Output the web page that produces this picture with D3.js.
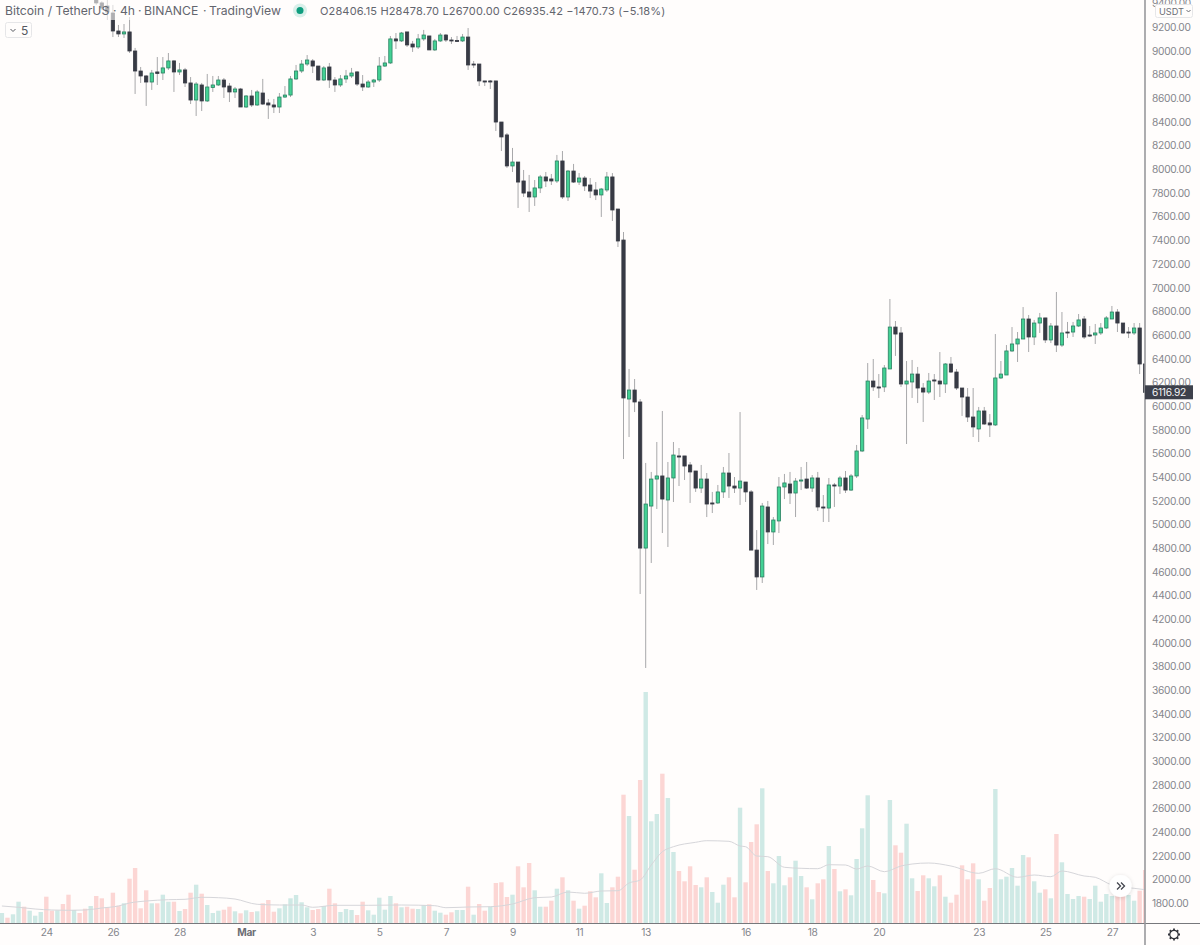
<!DOCTYPE html>
<html>
<head>
<meta charset="utf-8">
<script src="https://cdnjs.cloudflare.com/ajax/libs/d3/7.8.5/d3.min.js"></script>
<style>
  html, body { margin: 0; padding: 0; background: #fffdfc; overflow: hidden; }
  text { font-family: Inter, "Noto Sans", sans-serif; }
  .axis-label text { fill: #85868c; font-size: 10.2px; letter-spacing: -0.3px; }
  .legend-title { fill: #63656e; font-size: 12.2px; }
  .legend-ohlc { fill: #63656e; font-size: 11px; letter-spacing: 0.15px; }
</style>
</head>
<body>
<svg id="chart" width="1200" height="945"></svg>
<script>
// bars run 0..206, six per day. The candles above the top edge are not in the picture, so they start at bar 17.
const FIRST_CANDLE = 17;

const candleOpen = [
  9440, 9406, 9380, 9321, 9169, 9144, 9161, 9000, 8831, 8789,
  8738, 8823, 8814, 8857, 8916, 8823, 8840, 8730, 8586, 8713,
  8578, 8692, 8713, 8755, 8704, 8654, 8679, 8527, 8620, 8544,
  8645, 8561, 8544, 8527, 8611, 8628, 8764, 8831, 8890, 8916,
  8873, 8755, 8865, 8755, 8713, 8764, 8789, 8823, 8721, 8696,
  8738, 8755, 8873, 8899, 9102, 9085, 9161, 9059, 9034, 9102,
  9127, 9009, 9085, 9135, 9093, 9089, 9085, 9118, 8890, 8890,
  8747, 8747, 8747, 8400, 8291, 8029, 8062, 7902, 7809, 7767,
  7843, 7936, 7919, 7902, 8071, 7767, 7986, 7893, 7927, 7868,
  7826, 7784, 7826, 7936, 7665, 7403, 6060, 6136, 6035, 4801,
  5156, 5384, 5410, 5207, 5393, 5579, 5579, 5503, 5452, 5308,
  5384, 5182, 5182, 5275, 5435, 5325, 5308, 5359, 5275, 4784,
  4557, 5148, 4937, 5030, 5317, 5342, 5266, 5367, 5384, 5308,
  5393, 5148, 5139, 5334, 5325, 5393, 5291, 5410, 5621, 5891,
  6212, 6162, 6162, 6314, 6668, 6618, 6187, 6204, 6271, 6153,
  6119, 6221, 6212, 6187, 6356, 6288, 6153, 6077, 5908, 5807,
  5959, 5858, 5841, 6238, 6263, 6466, 6525, 6567, 6736, 6584,
  6702, 6745, 6559, 6677, 6516, 6626, 6626, 6677, 6736, 6601,
  6601, 6618, 6660, 6736, 6795, 6702, 6626, 6618, 6660, 6356
];
const candleHigh = [
  9470, 9420, 9440, 9389, 9220, 9228, 9287, 9026, 8865, 8797,
  8840, 8949, 8949, 8983, 8924, 8899, 8857, 8780, 8738, 8730,
  8806, 8789, 8789, 8772, 8730, 8696, 8688, 8628, 8671, 8671,
  8764, 8595, 8595, 8645, 8704, 8789, 8882, 8924, 8966, 8932,
  8873, 8873, 8899, 8780, 8797, 8840, 8857, 8831, 8797, 8755,
  8764, 8949, 8958, 9127, 9152, 9161, 9161, 9085, 9144, 9178,
  9127, 9102, 9152, 9144, 9118, 9127, 9144, 9194, 8916, 8890,
  8747, 8755, 8747, 8400, 8307, 8181, 8062, 7995, 7953, 7910,
  7953, 7978, 7961, 8122, 8155, 7995, 8046, 7969, 7944, 7927,
  7893, 7843, 7978, 7969, 7665, 7471, 6314, 6229, 6060, 5520,
  5444, 5697, 5959, 5528, 5697, 5646, 5579, 5528, 5452, 5503,
  5435, 5275, 5334, 5486, 5604, 5401, 5950, 5359, 5291, 4953,
  5182, 5199, 5063, 5401, 5427, 5444, 5393, 5486, 5528, 5418,
  5444, 5249, 5393, 5351, 5410, 5452, 5427, 5672, 5925, 6364,
  6398, 6271, 6347, 6905, 6719, 6668, 6381, 6390, 6331, 6195,
  6280, 6271, 6457, 6364, 6415, 6314, 6153, 6153, 6153, 5993,
  5993, 5933, 6609, 6381, 6516, 6668, 6626, 6837, 6770, 6728,
  6787, 6745, 6702, 6964, 6795, 6711, 6711, 6778, 6761, 6677,
  6694, 6702, 6761, 6846, 6820, 6702, 6668, 6702, 6702, 6356
];
const candleLow = [
  9390, 9347, 9262, 9118, 9118, 9110, 8983, 8637, 8730, 8536,
  8671, 8713, 8755, 8840, 8654, 8797, 8696, 8552, 8451, 8493,
  8569, 8654, 8704, 8603, 8569, 8603, 8527, 8519, 8527, 8536,
  8544, 8426, 8476, 8476, 8603, 8611, 8755, 8814, 8873, 8814,
  8747, 8747, 8688, 8654, 8696, 8730, 8772, 8704, 8662, 8688,
  8696, 8738, 8865, 8890, 9017, 9076, 9034, 8992, 9017, 9085,
  9009, 9000, 9076, 9076, 9059, 9076, 9076, 8840, 8857, 8704,
  8704, 8679, 8324, 8155, 8012, 7978, 7674, 7767, 7640, 7691,
  7800, 7851, 7868, 7885, 7750, 7733, 7885, 7868, 7817, 7758,
  7741, 7598, 7809, 7564, 7344, 5553, 5739, 5950, 4413, 3788,
  4675, 5131, 4928, 4810, 5190, 5325, 5376, 5182, 5275, 5266,
  5063, 5097, 5173, 5224, 5224, 5266, 5165, 5190, 4784, 4447,
  4506, 4835, 4827, 4928, 5215, 5173, 5063, 5291, 5300, 5275,
  5114, 5021, 5021, 5148, 5258, 5266, 5283, 5393, 5612, 5807,
  6128, 6069, 6119, 6314, 6424, 6162, 5680, 6069, 6026, 5866,
  6102, 6052, 6077, 6111, 6280, 6136, 5917, 5866, 5739, 5697,
  5841, 5739, 5832, 6229, 6263, 6457, 6373, 6567, 6457, 6516,
  6618, 6533, 6533, 6457, 6500, 6575, 6584, 6668, 6567, 6584,
  6525, 6601, 6652, 6736, 6626, 6609, 6575, 6601, 6271, 6117
];
const candleClose = [
  9406, 9363, 9330, 9169, 9144, 9161, 9000, 8831, 8789, 8738,
  8814, 8810, 8857, 8916, 8823, 8840, 8730, 8586, 8721, 8578,
  8696, 8713, 8755, 8696, 8654, 8679, 8527, 8620, 8544, 8654,
  8552, 8544, 8527, 8611, 8628, 8764, 8831, 8890, 8924, 8873,
  8755, 8857, 8755, 8713, 8764, 8789, 8814, 8721, 8696, 8738,
  8755, 8873, 8899, 9102, 9085, 9152, 9051, 9034, 9102, 9135,
  9009, 9085, 9135, 9093, 9085, 9085, 9118, 8882, 8882, 8747,
  8738, 8738, 8400, 8274, 8029, 8062, 7893, 7800, 7767, 7843,
  7936, 7902, 7902, 8071, 7767, 7986, 7893, 7927, 7860, 7817,
  7784, 7834, 7936, 7657, 7395, 6069, 6136, 6035, 4801, 5173,
  5384, 5410, 5215, 5393, 5587, 5570, 5494, 5444, 5308, 5384,
  5173, 5173, 5275, 5435, 5325, 5308, 5367, 5275, 4784, 4557,
  5156, 4937, 5038, 5317, 5351, 5266, 5367, 5376, 5308, 5393,
  5148, 5139, 5334, 5325, 5393, 5291, 5410, 5621, 5900, 6212,
  6162, 6153, 6322, 6668, 6609, 6187, 6212, 6271, 6153, 6119,
  6212, 6212, 6187, 6356, 6288, 6153, 6077, 5908, 5824, 5959,
  5849, 5841, 6238, 6271, 6466, 6525, 6567, 6736, 6584, 6702,
  6745, 6559, 6677, 6516, 6618, 6618, 6677, 6728, 6584, 6592,
  6618, 6660, 6745, 6795, 6702, 6618, 6618, 6660, 6356, 6116.92
];

// volume in arbitrary units, one value per bar from bar 0
const volumes = [
  10, 5.3, 8.7, 21.3, 16.3, 12.3, 7.3, 11, 26.3, 12.3,
  12.7, 19, 28.3, 13, 10, 14.3, 17, 27, 24.7, 15.7,
  30.3, 17.3, 19.7, 44.3, 55, 14.7, 32.7, 19.7, 19.7, 28.3,
  21.3, 21.3, 12, 14, 30.3, 38.3, 29.3, 18, 10, 12.3,
  13.3, 16.3, 11.7, 9.7, 12.7, 11, 11.7, 19.7, 23, 11.3,
  14.7, 18.7, 24.7, 28, 20.7, 15.7, 13, 14, 17, 34.3,
  19.7, 11, 14, 13, 8, 21.3, 12.7, 8.3, 25.3, 13.3,
  27, 19.7, 15.7, 16.3, 14.3, 14, 18, 18.7, 12.3, 10.3,
  8.3, 10.7, 13, 13, 36.3, 8.3, 19, 12.3, 16.3, 40,
  40.7, 26, 28.3, 56.7, 35.7, 60, 32.7, 16.3, 16.3, 22.3,
  34.3, 45.7, 32.7, 22.3, 14.3, 17.3, 31.7, 25.7, 49.7, 20,
  35.7, 46.3, 128.3, 107, 53.3, 143, 231, 101.7, 109, 149.3,
  125, 71, 52, 41.7, 56.7, 38, 35.7, 45.7, 31, 20.3,
  38.3, 45.7, 25.7, 115.3, 40.7, 81, 98.7, 134.7, 52, 39.7,
  67, 37.7, 45.7, 62.3, 47, 35.7, 23.7, 39.7, 43.7, 77,
  54, 31.7, 33.7, 27.7, 64, 94.7, 127.7, 43, 31, 29.7,
  123, 77.7, 70.3, 99.3, 44.7, 32, 47.7, 44.7, 36.7, 47.7,
  26.3, 20.3, 28.3, 57.7, 43.7, 59.7, 43.7, 22.3, 35, 134,
  43.7, 46.3, 55, 37.3, 68, 65.7, 41.7, 30.3, 33.7, 24.7,
  89, 60.7, 29, 24, 27, 26.3, 24, 37.3, 21.3, 29,
  27, 28, 30, 28, 22.3, 32.3, 53
];
// 1 = up bar (teal), 0 = down bar (pink)
const volumeUp = [
  1, 0, 1, 1, 0, 1, 1, 1, 0, 0,
  1, 0, 0, 1, 0, 0, 1, 0, 0, 0,
  0, 0, 1, 0, 0, 0, 0, 1, 0, 1,
  1, 0, 1, 0, 0, 1, 0, 1, 1, 1,
  0, 0, 1, 0, 1, 0, 1, 0, 0, 0,
  1, 1, 1, 1, 1, 1, 0, 0, 1, 0,
  0, 1, 1, 1, 0, 0, 1, 1, 1, 1,
  1, 0, 1, 0, 0, 1, 1, 0, 1, 1,
  0, 0, 1, 1, 0, 1, 0, 0, 1, 0,
  0, 0, 1, 0, 0, 0, 1, 1, 0, 0,
  1, 0, 1, 0, 1, 0, 0, 0, 1, 1,
  0, 0, 0, 1, 0, 0, 1, 1, 1, 0,
  1, 1, 0, 0, 0, 0, 1, 0, 1, 1,
  1, 0, 0, 1, 0, 0, 0, 1, 0, 1,
  1, 1, 0, 1, 1, 0, 1, 0, 0, 1,
  0, 1, 0, 1, 1, 1, 1, 0, 0, 1,
  1, 0, 0, 1, 1, 0, 0, 1, 1, 0,
  1, 0, 0, 0, 0, 0, 1, 0, 0, 1,
  1, 1, 1, 1, 1, 0, 1, 1, 0, 1,
  0, 1, 1, 1, 1, 0, 1, 1, 1, 1,
  1, 0, 0, 1, 1, 0, 0
];

const maBars = [0, 3, 6, 9, 12, 15, 18, 21, 23, 26, 30, 33, 36, 39, 42, 46, 50, 54, 56, 60, 66, 72,
  78, 80, 84, 88, 92, 96, 99, 102, 105, 108, 111, 113, 115, 117, 119, 121, 125, 127, 131, 133, 134,
  136, 138, 141, 144, 147, 149, 152, 154, 156, 159, 162, 164, 167, 171, 176, 179, 183, 186, 189,
  191, 195, 197, 200, 204, 206];
const maValues = [17, 15.7, 14, 13, 12.7, 13, 15, 17, 20, 22, 23.3, 23.7, 25.7, 25.3, 24, 18.7, 18, 18, 15.7, 17.7, 17.7, 18,
  17.3, 15.3, 16, 16.3, 19, 25.3, 26, 31, 29.7, 32, 32.3, 40, 43, 58, 71.3, 76.3, 80.7, 82.3, 81.7, 77, 76.3,
  67, 66.3, 55.7, 54.7, 54.3, 58.3, 58, 54, 57, 51.3, 57, 59, 60, 57, 49.7, 54.3, 45.7, 48, 46.3,
  52, 47, 45.7, 38, 34.7, 33.3];

const dayTicks = [8, 20, 32, 44, 56, 68, 80, 92, 104, 116, 134, 146, 158, 176, 188, 200];
const dayLabels = ["24", "26", "28", "Mar", "3", "5", "7", "9", "11", "13", "16", "18", "20", "23", "25", "27"];
const priceTicks = d3.range(1800, 9401, 200);

const lastPrice = 6116.92;
const legendParts = ["Bitcoin / TetherUS", "\u00B7", "4h", "\u00B7", "BINANCE", "\u00B7", "TradingView"];
const legendPartX = [5, 113, 120, 138, 144, 203, 209];
const legendOhlc = "O28406.15 H28478.70 L26700.00 C26935.42 \u22121470.73 (\u22125.18%)";

const AXIS_X = 1145;
const BASE_Y = 923;

const svg = d3.select("#chart");
svg.append("rect").attr("width", 1200).attr("height", 945).attr("fill", "#fffdfc");

svg.append("clipPath").attr("id", "pane")
  .append("rect").attr("width", AXIS_X).attr("height", BASE_Y);

const x = d3.scaleLinear().domain([0, 206]).range([1.9, 1145.2]);
const y = d3.scaleLinear().domain([9000, 1800]).range([51, 903.3]);
const yVol = d3.scaleLinear().domain([0, 231]).range([BASE_Y, 692]);

const pane = svg.append("g").attr("clip-path", "url(#pane)");

//Volume bars go under everything else
pane.append("g").selectAll("rect")
  .data(volumes)
  .join("rect")
  .attr("x", (d, i) => x(i) - 2.2)
  .attr("width", 4.4)
  .attr("y", d => yVol(d))
  .attr("height", d => BASE_Y - yVol(d))
  .attr("fill", (d, i) => volumeUp[i] ? "#cfe9e5" : "#fcd6d4");

const maLine = d3.line()
  .x((d, i) => x(d))
  .y((d, i) => yVol(maValues[i]))
  .curve(d3.curveMonotoneX);

pane.append("path")
  .attr("d", maLine(maBars))
  .attr("fill", "none")
  .attr("stroke", "#d6d6da")
  .attr("stroke-width", 1);

//Candles
const candles = candleOpen.map((open, i) => ({
  bar: i + FIRST_CANDLE,
  open: open,
  high: candleHigh[i],
  low: candleLow[i],
  close: candleClose[i]
}));

const candleG = pane.append("g");

candleG.selectAll(".wick")
  .data(candles)
  .join("line")
  .attr("class", "wick")
  .attr("x1", d => x(d.bar))
  .attr("x2", d => x(d.bar))
  .attr("y1", d => y(d.high))
  .attr("y2", d => y(d.low))
  .attr("stroke", "#a8a8aa")
  .attr("stroke-width", 1);

candleG.selectAll(".body")
  .data(candles)
  .join("rect")
  .attr("class", "body")
  .attr("x", d => x(d.bar) - 1.65)
  .attr("width", 3.3)
  .attr("y", d => y(Math.max(d.open, d.close)))
  .attr("height", d => Math.max(1, Math.abs(y(d.open) - y(d.close))))
  .attr("fill", d => d.close > d.open ? "#43d194" : "#373a44")
  .attr("stroke", d => d.close > d.open ? "#2a8062" : "#373a44")
  .attr("stroke-width", 0.8);

//Price axis
const priceAxis = d3.axisRight(y)
  .tickValues(priceTicks)
  .tickFormat(d => d.toFixed(2))
  .tickSize(0)
  .tickPadding(7);

svg.append("g")
  .attr("class", "axis-label")
  .attr("transform", `translate(${AXIS_X},0)`)
  .call(priceAxis)
  .call(g => g.select(".domain").remove());

//Time axis
const timeAxis = d3.axisBottom(x)
  .tickValues(dayTicks)
  .tickFormat((d, i) => dayLabels[i])
  .tickSize(0)
  .tickPadding(6);

svg.append("g")
  .attr("class", "axis-label")
  .attr("transform", `translate(0,${BASE_Y})`)
  .call(timeAxis)
  .call(g => g.select(".domain").remove())
  .call(g => g.selectAll(".tick text")
    .filter(d => d === 44)
    .style("font-weight", 700)
    .style("fill", "#6d6e74"));

//Pane borders
svg.append("line")
  .attr("x1", 0).attr("x2", 1200).attr("y1", BASE_Y + 0.5).attr("y2", BASE_Y + 0.5)
  .attr("stroke", "#77787c");
svg.append("line")
  .attr("x1", AXIS_X).attr("x2", AXIS_X).attr("y1", 0).attr("y2", 945)
  .attr("stroke", "#98989b").attr("stroke-width", 1.6);

//Legend sits on a see-through strip, the candles under it look washed out
svg.append("rect")
  .attr("width", 670).attr("height", 20)
  .attr("fill", "#fffdfc").attr("opacity", 0.6);

svg.append("g").selectAll("text")
  .data(legendParts)
  .join("text")
  .attr("class", "legend-title")
  .attr("x", (d, i) => legendPartX[i])
  .attr("y", 15)
  .text(d => d);

svg.append("circle").attr("cx", 300).attr("cy", 10.5).attr("r", 7).attr("fill", "#d9f0ea");
svg.append("circle").attr("cx", 300).attr("cy", 10.5).attr("r", 3.5).attr("fill", "#0f9d7e");

svg.append("text")
  .attr("class", "legend-ohlc")
  .attr("x", 320).attr("y", 15)
  .text(legendOhlc);

//Small "5" collapse box
svg.append("rect")
  .attr("x", 5.5).attr("y", 22.5).attr("width", 26).attr("height", 15).attr("rx", 2)
  .attr("fill", "#fffdfc").attr("stroke", "#e6e6e8");
svg.append("path")
  .attr("d", d3.line()([[10.5, 29], [13, 31.5], [15.5, 29]]))
  .attr("fill", "none").attr("stroke", "#55575f").attr("stroke-width", 1);
svg.append("text")
  .attr("x", 21).attr("y", 35)
  .attr("font-size", 12).attr("fill", "#55575f")
  .text("5");

//USDT currency button
svg.append("rect")
  .attr("x", 1155.5).attr("y", 4.5).attr("width", 37).attr("height", 13).attr("rx", 2)
  .attr("fill", "#fffdfc").attr("stroke", "#e6e6e8");
svg.append("text")
  .attr("x", 1159).attr("y", 14.5)
  .attr("font-size", 9.2).attr("fill", "#6b6d75")
  .text("USDT");
svg.append("path")
  .attr("d", d3.line()([[1186.5, 10], [1188.5, 12], [1190.5, 10]]))
  .attr("fill", "none").attr("stroke", "#6b6d75").attr("stroke-width", 1);

//Last price tag
svg.append("rect")
  .attr("x", AXIS_X).attr("y", y(lastPrice) - 7).attr("width", 48).attr("height", 14)
  .attr("fill", "#3d404b");
svg.append("text")
  .attr("x", AXIS_X + 7).attr("y", y(lastPrice) + 3.7)
  .attr("font-size", 10.2).attr("letter-spacing", "-0.3px").attr("fill", "#f4f4f5")
  .text(lastPrice.toFixed(2));

//Scroll-to-latest button
const shadow = svg.append("defs").append("filter").attr("id", "soft")
  .attr("x", "-50%").attr("y", "-50%").attr("width", "200%").attr("height", "200%");
shadow.append("feDropShadow")
  .attr("dx", 0).attr("dy", 1).attr("stdDeviation", 2)
  .attr("flood-color", "#000").attr("flood-opacity", 0.15);
svg.append("circle")
  .attr("cx", 1120.5).attr("cy", 886).attr("r", 11)
  .attr("fill", "#ffffff").attr("filter", "url(#soft)");
[[1117, 882.5], [1121, 882.5]].forEach(p => {
  svg.append("path")
    .attr("d", d3.line()([[p[0], p[1]], [p[0] + 3.5, p[1] + 3.5], [p[0], p[1] + 7]]))
    .attr("fill", "none").attr("stroke", "#43464f").attr("stroke-width", 1.3);
});

//Settings gear
const gear = svg.append("g").attr("transform", "translate(1174,934.5)");
gear.append("circle").attr("r", 4.2).attr("fill", "none").attr("stroke", "#33353c").attr("stroke-width", 1.2);
d3.range(0, 360, 45).forEach(a => {
  gear.append("line")
    .attr("x1", 4).attr("x2", 6)
    .attr("transform", `rotate(${a})`)
    .attr("stroke", "#33353c").attr("stroke-width", 1.8);
});
</script>
</body>
</html>
